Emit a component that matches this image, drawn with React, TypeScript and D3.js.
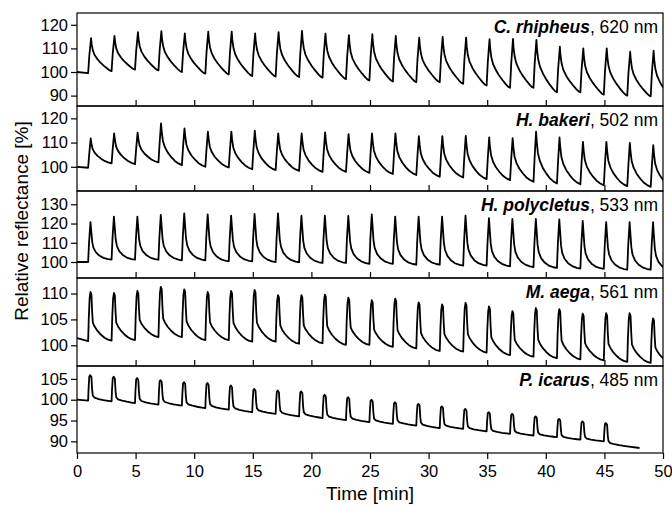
import React, { useEffect, useRef } from "react";
import * as d3 from "d3";

const width = 672;
const height = 506;
const plotLeft = 77;
const plotRight = 663;
const panelEdges = [13, 106, 191, 278, 366, 453];

// stimulation protocol: a light pulse every 2 min
const firstOnset = 0.95;
const pulseInterval = 2;
const xTicks = [0, 5, 10, 15, 20, 25, 30, 35, 40, 45, 50];

// pulse shapes: [min after onset, fraction of peak height]
const shapeRhipheus = [[0, 0], [0.1, 0.5], [0.25, 1], [0.3, 0.82], [0.4, 0.63], [0.55, 0.49], [0.8, 0.36], [1.05, 0.26], [1.35, 0.16], [1.65, 0.07], [1.85, 0.02], [2, 0]];
const shapeBakeri = [[0, 0], [0.1, 0.5], [0.22, 1], [0.28, 0.8], [0.38, 0.58], [0.55, 0.43], [0.8, 0.3], [1.1, 0.19], [1.4, 0.1], [1.7, 0.04], [2, 0]];
const shapePolycletus = [[0, 0], [0.08, 0.5], [0.2, 1], [0.27, 0.75], [0.35, 0.47], [0.45, 0.32], [0.65, 0.2], [0.95, 0.11], [1.3, 0.05], [1.7, 0.015], [2, 0]];
const shapeAega = [[0, 0], [0.06, 0.5], [0.13, 0.88], [0.2, 1], [0.28, 0.95], [0.34, 0.6], [0.4, 0.37], [0.55, 0.29], [0.8, 0.2], [1.1, 0.12], [1.4, 0.06], [1.7, 0.02], [2, 0]];
const shapeIcarus = [[0, 0], [0.04, 0.5], [0.1, 0.95], [0.18, 1], [0.28, 0.93], [0.34, 0.45], [0.4, 0.22], [0.55, 0.14], [0.9, 0.09], [1.3, 0.05], [1.7, 0.02], [2, 0]];

// C. rhipheus, 620 nm
const rhipheusPeaks = [114.3, 115.3, 116.9, 117.3, 116.4, 117.1, 117.1, 116.4, 116.9, 117.4, 116.3, 115.6, 116, 115.3, 114.6, 114.9, 114.6, 113.9, 114, 113.6, 110.7, 110, 110, 108.6, 109];
const rhipheusTroughs = [99.5, 100.4, 101, 100.7, 100, 99.3, 99, 98.3, 98.1, 97.9, 97.6, 97, 96.4, 96, 95.7, 95.7, 95, 94.3, 93.3, 93.3, 91.4, 91.4, 90.4, 90, 89.7, 88.1];

// H. bakeri, 502 nm
const bakeriPeaks = [111.7, 113.8, 114.1, 117.9, 115.9, 114.5, 114.5, 114.9, 113.8, 113.8, 114.2, 113.5, 113.8, 113.8, 112.7, 112.7, 112.8, 112.1, 111.8, 114.5, 112.1, 110.3, 110.3, 109.9, 108.9];
const bakeriTroughs = [99.6, 101.4, 101.1, 101.8, 100.7, 100, 99.7, 99, 98.6, 98.3, 97.9, 97.9, 97.5, 97, 96.6, 95.9, 95.6, 94.9, 94.5, 93.8, 93.1, 92.8, 92.4, 92, 91.7, 90.9];

// H. polycletus, 533 nm
const polycletusPeaks = [120.7, 123.6, 123.6, 124.5, 125.3, 124.8, 124.1, 125, 125.3, 124.1, 124.1, 124, 124.8, 123.6, 123.6, 123.6, 124.1, 122.8, 122.4, 122.4, 122.2, 121.4, 120.7, 120.7, 120.7];
const polycletusTroughs = [100, 101.2, 101.2, 101.2, 100.9, 100.9, 100.3, 100.3, 100, 99.8, 99.5, 99.5, 99.1, 99.1, 98.6, 98.6, 98.1, 98.1, 97.8, 97.4, 96.9, 96.6, 96.4, 96, 96, 95.1];

// M. aega, 561 nm
const aegaPeaks = [110.3, 110.1, 110.5, 111.3, 110.8, 110.3, 110.5, 110.7, 109.7, 109.7, 109.8, 109.2, 108.7, 109, 108.3, 107.9, 108.2, 107.5, 106.6, 107.2, 107, 106.1, 106.2, 106.2, 105.2];
const aegaTroughs = [100.8, 100.9, 101, 101.6, 101.6, 101, 101, 100.7, 100.7, 100.3, 100.4, 100.1, 100.1, 99.7, 99.4, 98.9, 98.8, 98.6, 98.1, 97.8, 97.5, 97.3, 97.1, 96.8, 96.6, 96.3];

// P. icarus, 485 nm
const icarusPeaks = [105.9, 105.5, 105.2, 104.7, 104.2, 104, 103.4, 102.6, 102.2, 102, 101.2, 100.6, 100, 99.4, 99, 98.4, 97.8, 97, 96.6, 96, 95.4, 94.8, 94.4];
const icarusTroughs = [99.8, 99.6, 99.2, 98.8, 98.6, 98, 97.6, 97, 96.6, 96, 95.6, 95.1, 94.6, 94.2, 93.8, 93.2, 93, 92.4, 91.8, 91.4, 91, 90.4, 90, 88.8];

const panels = [
  { species: "C. rhipheus", wl: ", 620 nm", peaks: rhipheusPeaks, troughs: rhipheusTroughs, shape: shapeRhipheus, start: 100, end: null, domain: [85.6, 125], ticks: [90, 100, 110, 120] },
  { species: "H. bakeri", wl: ", 502 nm", peaks: bakeriPeaks, troughs: bakeriTroughs, shape: shapeBakeri, start: 100, end: null, domain: [90, 125.1], ticks: [100, 110, 120] },
  { species: "H. polycletus", wl: ", 533 nm", peaks: polycletusPeaks, troughs: polycletusTroughs, shape: shapePolycletus, start: 100, end: null, domain: [91.7, 136.9], ticks: [100, 110, 120, 130] },
  { species: "M. aega", wl: ", 561 nm", peaks: aegaPeaks, troughs: aegaTroughs, shape: shapeAega, start: 101.4, end: null, domain: [96, 113], ticks: [100, 105, 110] },
  { species: "P. icarus", wl: ", 485 nm", peaks: icarusPeaks, troughs: icarusTroughs, shape: shapeIcarus, start: 100, end: [48, 88.4], domain: [87.2, 108.1], ticks: [90, 95, 100, 105] },
];

const font = "'Liberation Sans', Arial, sans-serif";

function buildTrace(p) {
  const pts = [[0, p.start]];
  p.peaks.forEach((peak, i) => {
    const t0 = firstOnset + i * pulseInterval;
    const last = i === p.peaks.length - 1;
    let rising = true;
    p.shape.forEach(([dt, f]) => {
      if (dt >= pulseInterval && !last) return;
      const base = rising ? p.troughs[i] : p.troughs[i + 1];
      pts.push([t0 + dt, base + (peak - base) * f]);
      if (f === 1) rising = false;
    });
  });
  if (p.end) pts.push(p.end);
  return pts;
}

const x = d3.scaleLinear().domain([0, 50]).range([plotLeft, plotRight]);

function Panel({ p, i }) {
  const yAxis = useRef(null);
  const xAxis = useRef(null);
  const top = panelEdges[i];
  const bottom = panelEdges[i + 1];
  const isLast = i === panels.length - 1;
  const y = d3.scaleLinear().domain(p.domain).range([bottom, top]);
  const line = d3.line().x((d) => x(d[0])).y((d) => y(d[1]));
  const pts = buildTrace(p);

  useEffect(() => {
    const ya = d3.axisLeft(y).tickValues(p.ticks).tickSize(6).tickSizeOuter(0).tickPadding(3);
    const yg = d3.select(yAxis.current).call(ya);
    yg.select(".domain").remove();
    yg.selectAll("text").attr("font-size", 16.5).attr("font-family", font).attr("fill", "#000");
    yg.selectAll("line").attr("stroke", "#000").attr("stroke-width", 1.2);

    const xa = isLast
      ? d3.axisBottom(x).tickValues(xTicks).tickSize(6).tickSizeOuter(0).tickPadding(6)
      : d3.axisTop(x).tickValues(xTicks.slice(1, -1)).tickSize(6).tickSizeOuter(0).tickFormat(() => "");
    const xg = d3.select(xAxis.current).call(xa);
    xg.select(".domain").remove();
    xg.selectAll("text").attr("font-size", 16.5).attr("font-family", font).attr("fill", "#000");
    xg.selectAll("line").attr("stroke", "#000").attr("stroke-width", 1.2);
  });

  return (
    <g>
      <clipPath id={`clip${i}`}>
        <rect x={plotLeft} y={top} width={plotRight - plotLeft} height={bottom - top} />
      </clipPath>
      <path d={line(pts)} fill="none" stroke="#000" strokeWidth={1.8} strokeLinejoin="round" clipPath={`url(#clip${i})`} />
      <rect x={plotLeft} y={top} width={plotRight - plotLeft} height={bottom - top} fill="none" stroke="#000" strokeWidth={1.2} />
      <g ref={yAxis} transform={`translate(${plotLeft},0)`} />
      <g ref={xAxis} transform={`translate(0,${bottom})`} />
      <text x={plotRight - 5} y={top + 20} textAnchor="end" fontFamily={font} fontSize={17.5} fill="#000">
        <tspan fontWeight="bold" fontStyle="italic">{p.species}</tspan>
        <tspan>{p.wl}</tspan>
      </text>
    </g>
  );
}

export default function App() {
  return (
    <svg width={width} height={height} style={{ position: "absolute", left: 0, top: 0, background: "#fff" }}>
      {panels.map((p, i) => (
        <Panel key={p.species} p={p} i={i} />
      ))}
      <text transform="translate(28,221) rotate(-90)" textAnchor="middle" fontFamily={font} fontSize={19} fill="#000">
        Relative reflectance [%]
      </text>
      <text x={x(25)} y={500} textAnchor="middle" fontFamily={font} fontSize={19} fill="#000">
        Time [min]
      </text>
    </svg>
  );
}
